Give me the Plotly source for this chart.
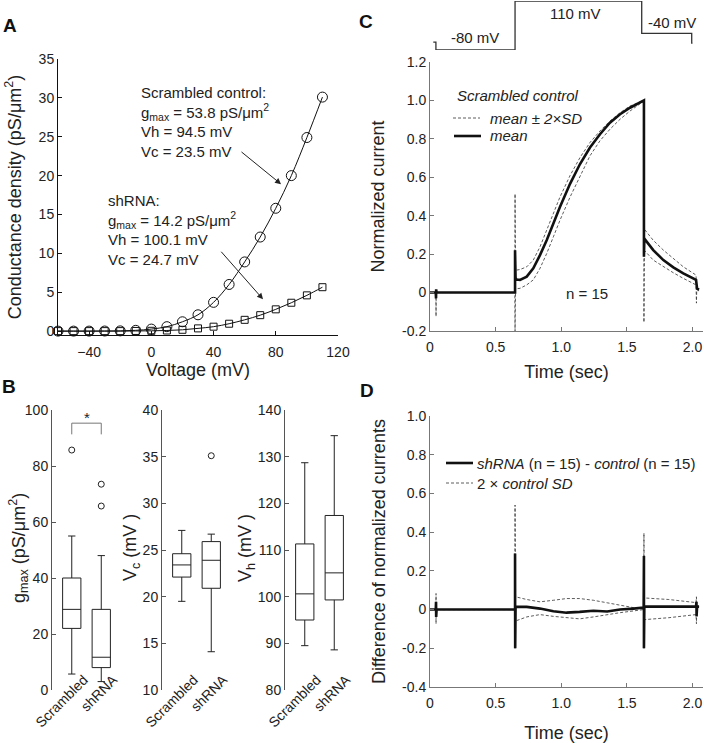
import plotly.graph_objects as go

# ---- A: densidad de conductancia vs voltaje ----
voltaje = [-60, -50, -40, -30, -20, -10, 0, 10, 20, 30, 40, 50, 60, 70, 80, 90, 100, 110]
g_scrambled = [0.0, 0.0, 0.0, 0.01, 0.03, 0.1, 0.26, 0.57, 1.2, 2.1, 3.7, 6.0, 8.9, 12.1, 15.8, 20.0, 24.9, 30.1]
g_shrna = [0.0, 0.0, 0.0, 0.0, 0.0, 0.02, 0.04, 0.08, 0.17, 0.35, 0.57, 0.95, 1.45, 2.05, 2.8, 3.65, 4.6, 5.65]

# ---- B: boxplots (q1, mediana, q3, bigotes, atipicos) ----
grupos = ["Scrambled", "shRNA"]
gmax_stats = {"low": [5.7, 3.0], "q1": [22.0, 8.0], "med": [28.8, 11.7], "q3": [40.0, 28.8], "high": [55.0, 48.0]}
gmax_out_x = [1, 2, 2]
gmax_out_y = [85.7, 73.5, 65.7]
vc_stats = {"low": [19.5, 14.1], "q1": [22.1, 20.9], "med": [23.4, 23.9], "q3": [24.6, 25.9], "high": [27.1, 26.7]}
vc_out_x = [2]
vc_out_y = [35.1]
vh_stats = {"low": [89.5, 88.6], "q1": [95.0, 99.3], "med": [100.6, 105.1], "q3": [111.3, 117.4], "high": [128.7, 134.5]}
bracket_x = [1, 1, 2, 2]
bracket_y = [91.3, 95.3, 95.3, 91.3]

# ---- C: corrientes normalizadas (control) ----
t_media = [0, 0.044, 0.046, 0.047, 0.05, 0.648, 0.648, 0.652, 0.66, 0.686, 0.737, 0.787, 0.838, 0.889, 0.94,
           0.99, 1.067, 1.143, 1.219, 1.295, 1.371, 1.448, 1.524, 1.6, 1.63, 1.63, 1.633, 1.701, 1.778, 1.854,
           1.93, 2.027, 2.03, 2.035, 2.05]
i_media = [0, 0, -0.03, 0.017, 0, 0, 0.22, 0.075, 0.068, 0.066, 0.083, 0.126, 0.195, 0.272, 0.359,
           0.445, 0.566, 0.669, 0.755, 0.824, 0.884, 0.928, 0.962, 0.988, 1.0, 0.186, 0.281, 0.221, 0.169, 0.131,
           0.1, 0.066, 0.022, 0.02, 0.015]
t_sup = [0, 0.646, 0.648, 0.652, 0.66, 0.686, 0.737, 0.787, 0.838, 0.889, 0.94, 0.99, 1.067, 1.143, 1.219,
         1.295, 1.371, 1.448, 1.524, 1.63, 1.633, 1.701, 1.778, 1.854, 1.93, 2.027, 2.03, 2.05]
i_sup = [0, 0, 0.514, 0.13, 0.117, 0.12, 0.134, 0.169, 0.238, 0.324, 0.41, 0.497, 0.609, 0.703, 0.781,
         0.841, 0.893, 0.936, 0.971, 1.0, 0.33, 0.272, 0.221, 0.178, 0.134, 0.091, 0.02, 0.02]
t_inf = [0, 0.045, 0.046, 0.047, 0.646, 0.648, 0.652, 0.686, 0.737, 0.787, 0.838, 0.889, 0.94, 0.99, 1.067,
         1.143, 1.219, 1.295, 1.371, 1.448, 1.524, 1.63, 1.63, 1.633, 1.701, 1.778, 1.854, 1.93, 2.027,
         2.03, 2.032, 2.05]
i_inf = [0, 0, -0.124, 0, 0, -0.2, 0.02, 0.022, 0.04, 0.066, 0.126, 0.203, 0.29, 0.376, 0.497,
         0.609, 0.712, 0.79, 0.85, 0.902, 0.945, 0.997, -0.155, 0.22, 0.169, 0.134, 0.103, 0.074, 0.04,
         -0.055, 0.01, 0.01]

# protocolo de voltaje (niveles esquematicos)
t_prot = [0.025, 0.045, 0.045, 0.648, 0.648, 1.613, 1.613, 1.994, 1.994, 2.0]
nivel_prot = [0.16, 0.16, 0.0, 0.0, 1.0, 1.0, 0.34, 0.34, 0.14, 0.14]

# ---- D: diferencia shRNA - control ----
t_dif = [0, 0.044, 0.046, 0.047, 0.05, 0.648, 0.648, 0.649, 0.652, 0.737, 0.838, 0.94, 1.04, 1.14, 1.245,
         1.35, 1.448, 1.55, 1.628, 1.63, 1.63, 1.633, 2.027, 2.03, 2.031, 2.035, 2.05]
i_dif = [0, 0, 0.04, -0.038, 0, 0, 0.29, -0.2, 0.014, 0.014, 0.005, -0.009, -0.016, -0.012, -0.006,
         -0.01, 0.0, 0.005, 0.01, 0.277, -0.2, 0.015, 0.015, 0.04, -0.035, 0.015, 0.015]
t_sd_sup = [0, 0.045, 0.046, 0.047, 0.646, 0.648, 0.652, 0.737, 0.838, 0.94, 1.04, 1.14, 1.245, 1.35, 1.448,
            1.55, 1.628, 1.63, 1.633, 1.82, 2.027, 2.03, 2.033, 2.05]
sd_sup = [0, 0, 0.083, 0, 0, 0.54, 0.066, 0.052, 0.04, 0.048, 0.057, 0.057, 0.048, 0.035, 0.022,
          0.01, 0.005, 0.395, 0.06, 0.052, 0.036, 0.066, 0.015, 0.015]
t_sd_inf = [0, 0.045, 0.046, 0.047, 0.646, 0.648, 0.652, 0.737, 0.838, 0.94, 1.04, 1.14, 1.245, 1.35, 1.448,
            1.55, 1.628, 1.63, 1.633, 1.82, 2.027, 2.03, 2.033, 2.05]
sd_inf = [0, 0, -0.073, 0, 0, -0.2, -0.059, -0.038, -0.026, -0.035, -0.043, -0.048, -0.038, -0.026, -0.016,
          -0.007, 0.0, -0.2, -0.052, -0.042, -0.026, -0.073, 0.015, 0.015]

FUENTE = "Liberation Sans, Arial, sans-serif"
NEGRO = "#111111"
GRIS_EJE = "#555555"
W, H = 704, 743


def px(x):
    return x / W


def py(y):
    return 1 - y / H


fig = go.Figure()

# A
fig.add_trace(go.Scatter(x=voltaje, y=g_scrambled, mode="lines+markers", line=dict(color=NEGRO, width=1, shape="spline"),
                         marker=dict(symbol="circle-open", size=10, color=NEGRO, line=dict(width=1)),
                         cliponaxis=False, xaxis="x", yaxis="y", showlegend=False))
fig.add_trace(go.Scatter(x=voltaje, y=g_shrna, mode="lines+markers", line=dict(color=NEGRO, width=1, shape="spline"),
                         marker=dict(symbol="square-open", size=7, color=NEGRO, line=dict(width=1)),
                         cliponaxis=False, xaxis="x", yaxis="y", showlegend=False))

# B
def cajas(stats, eje):
    for i in range(2):
        fig.add_trace(go.Box(x=[i + 1], q1=[stats["q1"][i]], median=[stats["med"][i]], q3=[stats["q3"][i]],
                             lowerfence=[stats["low"][i]], upperfence=[stats["high"][i]],
                             width=0.62, whiskerwidth=0.4, fillcolor="white", boxpoints=False,
                             line=dict(color="#222222", width=1), xaxis="x" + eje, yaxis="y" + eje,
                             showlegend=False, hoverinfo="skip"))


def atipicos(xs, ys, eje):
    fig.add_trace(go.Scatter(x=xs, y=ys, mode="markers", xaxis="x" + eje, yaxis="y" + eje, showlegend=False,
                             marker=dict(symbol="circle-open", size=6, color="#222222", line=dict(width=1))))


cajas(gmax_stats, "2")
atipicos(gmax_out_x, gmax_out_y, "2")
fig.add_trace(go.Scatter(x=bracket_x, y=bracket_y, mode="lines", line=dict(color="#777777", width=1),
                         xaxis="x2", yaxis="y2", showlegend=False))
cajas(vc_stats, "3")
atipicos(vc_out_x, vc_out_y, "3")
cajas(vh_stats, "4")

# C
sd_linea = dict(color="#333333", width=0.8, dash="3px,2px")
fig.add_trace(go.Scatter(x=t_sup, y=i_sup, mode="lines", line=sd_linea, xaxis="x5", yaxis="y5", showlegend=False))
fig.add_trace(go.Scatter(x=t_inf, y=i_inf, mode="lines", line=sd_linea, xaxis="x5", yaxis="y5", showlegend=False))
fig.add_trace(go.Scatter(x=t_media, y=i_media, mode="lines", line=dict(color=NEGRO, width=2.6),
                         xaxis="x5", yaxis="y5", showlegend=False))
fig.add_trace(go.Scatter(x=t_prot, y=nivel_prot, mode="lines", line=dict(color="#333333", width=1.3),
                         xaxis="x7", yaxis="y7", showlegend=False, cliponaxis=False))

# D
fig.add_trace(go.Scatter(x=t_sd_sup, y=sd_sup, mode="lines", line=sd_linea, xaxis="x6", yaxis="y6", showlegend=False))
fig.add_trace(go.Scatter(x=t_sd_inf, y=sd_inf, mode="lines", line=sd_linea, xaxis="x6", yaxis="y6", showlegend=False))
fig.add_trace(go.Scatter(x=t_dif, y=i_dif, mode="lines", line=dict(color=NEGRO, width=2.6),
                         xaxis="x6", yaxis="y6", showlegend=False))

tick_font = dict(family=FUENTE, size=14, color="#222222")
title_font = dict(family=FUENTE, size=18, color="#222222")


def eje(dominio, rango, color, **kw):
    d = dict(domain=dominio, range=rango, showgrid=False, zeroline=False, showline=True, linecolor=color,
             linewidth=1, ticks="inside", ticklen=4, tickcolor=color, tickfont=tick_font, automargin=False)
    d.update(kw)
    return d


def eje_cat(dominio):
    # eje x de los boxplots: sin linea, etiquetas giradas 45 grados
    return eje(dominio, [0.33, 2.5], GRIS_EJE, anchor="free", position=py(686), showline=False, ticks="",
               tickvals=[1, 2], ticktext=grupos, tickangle=-45, ticklabelstandoff=-18, ticklabelshift=12)


t_ticks = [0, 0.5, 1.0, 1.5, 2.0]
t_text = ["0", "0.5", "1.0", "1.5", "2.0"]
layout = dict(
    width=W, height=H, margin=dict(l=0, r=0, t=0, b=0, autoexpand=False),
    paper_bgcolor="white", plot_bgcolor="white", font=dict(family=FUENTE, color="#222222"),
    xaxis=eje([px(58), px(338)], [-60, 120], NEGRO, anchor="y", tickvals=[-40, 0, 40, 80, 120],
              ticklabelstandoff=4, title=dict(text="Voltage (mV)", font=title_font, standoff=0)),
    yaxis=eje([py(335), py(59)], [-0.5, 35], NEGRO, anchor="x", tickvals=[0, 5, 10, 15, 20, 25, 30, 35],
              title=dict(text="Conductance density (pS/μm<sup>2</sup>)", font=title_font, standoff=12)),
    xaxis2=eje_cat([px(52), px(116)]),
    yaxis2=eje([py(690), py(410)], [0, 100], GRIS_EJE, anchor="x2", tickvals=[0, 20, 40, 60, 80, 100]),
    xaxis3=eje_cat([px(162), px(226)]),
    yaxis3=eje([py(690), py(410)], [10, 40], GRIS_EJE, anchor="x3", tickvals=[10, 15, 20, 25, 30, 35, 40]),
    xaxis4=eje_cat([px(285), px(349)]),
    yaxis4=eje([py(690), py(410)], [80, 140], GRIS_EJE, anchor="x4", tickvals=[80, 90, 100, 110, 120, 130, 140]),
    xaxis5=eje([px(430), px(703)], [0, 2.08], "#777777", anchor="y5", tickvals=t_ticks, ticktext=t_text,
               ticklabelstandoff=3, title=dict(text="Time (sec)", font=title_font, standoff=11)),
    yaxis5=eje([py(331), py(62)], [-0.2, 1.2], "#777777", anchor="x5",
               tickvals=[-0.2, 0, 0.2, 0.4, 0.6, 0.8, 1.0, 1.2],
               ticktext=["-0.2", "0", "0.2", "0.4", "0.6", "0.8", "1.0", "1.2"],
               title=dict(text="Normalized current", font=title_font, standoff=12)),
    xaxis6=eje([px(430), px(703)], [0, 2.08], "#777777", anchor="y6", tickvals=t_ticks, ticktext=t_text,
               ticklabelstandoff=3, title=dict(text="Time (sec)", font=title_font, standoff=16)),
    yaxis6=eje([py(687), py(416)], [-0.4, 1.0], "#777777", anchor="x6",
               tickvals=[-0.4, -0.2, 0, 0.2, 0.4, 0.6, 0.8, 1.0],
               ticktext=["-0.4", "-0.2", "0", "0.2", "0.4", "0.6", "0.8", "1.0"],
               title=dict(text="Difference of normalized currents", font=title_font, standoff=11)),
    xaxis7=dict(domain=[px(430), px(703)], range=[0, 2.08], visible=False, anchor="y7", automargin=False),
    yaxis7=dict(domain=[py(50), py(1)], range=[0, 1], visible=False, anchor="x7", automargin=False),
)
fig.update_layout(**layout)

txt = dict(family=FUENTE, size=15, color="#222222")


def texto(t, x, y, **kw):
    d = dict(text=t, x=px(x), y=py(y), xref="paper", yref="paper", showarrow=False, font=txt,
             xanchor="center", yanchor="middle")
    d.update(kw)
    return d


anot = []
for letra, x, y in [("A", 10, 25), ("B", 9, 387), ("C", 366, 21), ("D", 367, 390)]:
    anot.append(texto("<b>%s</b>" % letra, x, y, font=dict(family=FUENTE, size=19, color="#111111")))
# titulos de los ejes y de B
for t, x in [("g<sub>max</sub> (pS/μm<sup>2</sup>)", 18), ("V<sub>c</sub> (mV )", 131), ("V<sub>h</sub> (mV )", 246)]:
    anot.append(texto(t, x, 548, textangle=-90, font=title_font))
anot += [
    texto("Scrambled control:<br>g<sub>max</sub> = 53.8 pS/μm<sup>2</sup><br>Vh = 94.5 mV<br>Vc = 23.5 mV",
          139, 82, xanchor="left", yanchor="top", align="left"),
    texto("shRNA:<br>g<sub>max</sub> = 14.2 pS/μm<sup>2</sup><br>Vh = 100.1 mV<br>Vc = 24.7 mV",
          106, 190, xanchor="left", yanchor="top", align="left"),
    dict(x=83.4, y=18.9, ax=57.0, ay=23.2, xref="x", yref="y", axref="x", ayref="y", text="",
         showarrow=True, arrowhead=2, arrowsize=1.2, arrowwidth=1, arrowcolor="#222222"),
    dict(x=71.8, y=4.1, ax=44.1, ay=10.4, xref="x", yref="y", axref="x", ayref="y", text="",
         showarrow=True, arrowhead=2, arrowsize=1.2, arrowwidth=1, arrowcolor="#222222"),
    dict(text="*", x=1.5, y=97.5, xref="x2", yref="y2", showarrow=False, font=dict(family=FUENTE, size=15)),
    texto("-80 mV", 475, 38),
    texto("110 mV", 575, 14),
    texto("-40 mV", 672, 22),
    texto("n = 15", 587, 293),
    texto("<i>Scrambled control</i>", 455, 95, xanchor="left"),
    texto("<i>mean ± 2×SD</i>", 488, 118, xanchor="left"),
    texto("<i>mean</i>", 488, 136, xanchor="left"),
    texto("<i>shRNA</i> (n = 15) - <i>control</i> (n = 15)", 475, 463, xanchor="left"),
    texto("2 × <i>control SD</i>", 475, 483, xanchor="left"),
]
fig.update_layout(annotations=anot)

formas = [
    dict(type="line", xref="paper", yref="paper", x0=px(453), x1=px(480), y0=py(118), y1=py(118),
         line=dict(color="#333333", width=0.8, dash="3px,2px")),
    dict(type="line", xref="paper", yref="paper", x0=px(454), x1=px(481), y0=py(136), y1=py(136),
         line=dict(color=NEGRO, width=2.6)),
    dict(type="line", xref="paper", yref="paper", x0=px(446), x1=px(473), y0=py(463), y1=py(463),
         line=dict(color=NEGRO, width=2.6)),
    dict(type="line", xref="paper", yref="paper", x0=px(446), x1=px(473), y0=py(483), y1=py(483),
         line=dict(color="#333333", width=0.8, dash="3px,2px")),
]
fig.update_layout(shapes=formas)

# sin el margen por defecto del body, la figura empieza en (0, 0)
fig.write_html("out.html", config={"displayModeBar": False},
               post_script="document.body.style.margin = '0';")
